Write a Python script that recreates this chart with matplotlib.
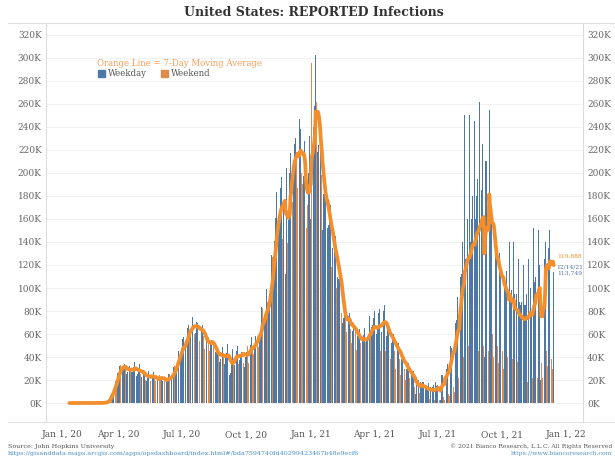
import numpy as np
import pandas as pd
import matplotlib
matplotlib.use('Agg')
import matplotlib.pyplot as plt
import matplotlib.transforms as mtransforms
from matplotlib.lines import Line2D
from matplotlib.patches import Rectangle

# daily reported US infections in thousands, rows are Mon..Sun weeks
start_date = '2020-01-22'

weeks_2020 = [
    [0, 0, 0, 0, 0],                                   # Jan 22 (Wed) - Jan 26
    [0, 0, 0, 0, 0, 0, 0],                             # Jan 27
    [0, 0, 0, 0, 0, 0, 0],                             # Feb 3
    [0, 0, 0, 0, 0, 0, 0],                             # Feb 10
    [0, 0, 0, 0, 0, 0, 0],                             # Feb 17
    [0, 0, 0, 0, 0, 0, 0.01],                          # Feb 24
    [0.02, 0.03, 0.03, 0.05, 0.08, 0.1, 0.12],         # Mar 2
    [0.2, 0.27, 0.27, 0.35, 0.6, 0.7, 0.73],           # Mar 9
    [1.3, 1.8, 2.4, 4.5, 5.6, 7.1, 8.6],               # Mar 16
    [10.6, 9.8, 11.8, 16.9, 18.4, 19.5, 18.9],         # Mar 23
    [22.5, 26.3, 25.8, 30.2, 32.1, 33.3, 26.4],        # Mar 30
    [30.7, 32.6, 31.2, 33.3, 34.2, 29.7, 27.2],        # Apr 6
    [25.5, 26.6, 30.4, 32.0, 32.1, 29.3, 25.9],        # Apr 13
    [27.4, 26.8, 28.7, 31.4, 35.8, 33.9, 27.4],        # Apr 20
    [23.6, 24.9, 26.8, 29.5, 34.1, 29.4, 25.3],        # Apr 27
    [22.5, 24.5, 25.4, 28.1, 26.9, 25.6, 20.4],        # May 4
    [18.9, 22.4, 21.6, 27.5, 25.7, 24.3, 19.2],        # May 11
    [21.8, 20.6, 22.9, 27.3, 24.9, 22.3, 19.5],        # May 18
    [18.7, 19.3, 20.4, 21.9, 24.6, 24.0, 20.9],        # May 25
    [21.0, 20.2, 19.3, 21.7, 24.5, 21.6, 17.8],        # Jun 1
    [17.1, 18.8, 21.0, 22.8, 25.0, 25.1, 19.4],        # Jun 8
    [19.5, 23.2, 25.9, 27.1, 31.4, 32.1, 26.2],        # Jun 15
    [30.0, 34.1, 38.2, 40.4, 45.3, 43.3, 41.9],        # Jun 22
    [40.9, 46.2, 51.1, 55.3, 57.5, 45.4, 44.1],        # Jun 29
    [49.5, 60.4, 62.0, 65.1, 68.1, 61.6, 58.3],        # Jul 6
    [61.7, 63.3, 68.4, 75.2, 71.4, 66.8, 60.3],        # Jul 13
    [61.3, 64.0, 70.1, 70.0, 72.0, 64.6, 54.1],        # Jul 20
    [57.1, 64.6, 64.8, 68.0, 69.2, 58.5, 47.0],        # Jul 27
    [48.6, 53.6, 53.3, 55.6, 58.6, 57.0, 44.8],        # Aug 3
    [45.6, 53.0, 54.4, 51.2, 64.4, 52.0, 40.5],        # Aug 10
    [36.9, 44.3, 45.2, 44.9, 47.4, 46.5, 35.6],        # Aug 17
    [36.1, 38.4, 44.9, 44.5, 48.4, 41.3, 34.4],        # Aug 24
    [34.3, 41.6, 41.9, 43.6, 51.6, 42.4, 32.6],        # Aug 31
    [24.0, 26.4, 34.7, 36.3, 46.8, 42.1, 34.6],        # Sep 7
    [33.0, 39.8, 39.3, 45.3, 49.5, 42.0, 33.9],        # Sep 14
    [37.0, 41.2, 40.0, 44.1, 54.0, 48.0, 35.1],        # Sep 21
    [31.0, 42.5, 40.2, 44.6, 51.9, 49.3, 34.9],        # Sep 28
    [40.3, 44.0, 50.1, 57.2, 57.7, 48.2, 43.0],        # Oct 5
    [40.1, 49.1, 58.0, 63.5, 68.6, 52.0, 48.7],        # Oct 12
    [58.4, 60.2, 62.5, 74.0, 83.7, 83.0, 60.8],        # Oct 19
    [66.4, 73.9, 79.3, 89.0, 99.3, 88.1, 74.0],        # Oct 26
    [82.6, 91.7, 103.6, 121.0, 128.3, 126.7, 104.1],   # Nov 2
    [127.5, 140.5, 144.5, 161.0, 183.3, 166.0, 138.0], # Nov 9
    [161.5, 161.7, 171.0, 187.1, 196.7, 178.0, 143.0], # Nov 16
    [171.0, 174.3, 181.0, 112.0, 204.0, 158.0, 139.0], # Nov 23
    [159.0, 180.0, 200.0, 217.0, 228.0, 214.0, 175.0], # Nov 30
    [193.0, 217.0, 225.0, 230.0, 245.0, 218.0, 187.0], # Dec 7
    [197.0, 200.0, 247.0, 238.0, 249.0, 200.0, 190.0], # Dec 14
    [196.0, 197.0, 228.0, 200.0, 150.0, 152.0, 172.0], # Dec 21
    [180.0, 200.0, 232.0, 235.0, 160.0, 296.0, 208.0], # Dec 28
]

weeks_2021 = [
    [190, 240, 258, 278, 303, 262, 215],   # Jan 4
    [218, 224, 232, 238, 242, 198, 172],   # Jan 11
    [150, 182, 190, 195, 196, 175, 140],   # Jan 18
    [152, 155, 160, 170, 172, 145, 118],   # Jan 25
    [135, 130, 132, 140, 145, 125, 100],   # Feb 1
    [110, 105, 108, 115, 118, 100, 78],    # Feb 8
    [70, 68, 74, 80, 88, 78, 62],          # Feb 15
    [58, 72, 76, 78, 80, 64, 52],          # Feb 22
    [60, 63, 70, 74, 72, 62, 46],          # Mar 1
    [50, 58, 62, 65, 64, 52, 40],          # Mar 8
    [53, 56, 59, 61, 65, 53, 40],          # Mar 15
    [55, 56, 62, 68, 76, 62, 42],          # Mar 22
    [66, 68, 70, 74, 80, 62, 44],          # Mar 29
    [60, 67, 72, 78, 82, 65, 45],          # Apr 5
    [62, 74, 78, 80, 85, 68, 45],          # Apr 12
    [58, 66, 66, 68, 72, 55, 38],          # Apr 19
    [52, 58, 58, 60, 62, 45, 30],          # Apr 26
    [46, 48, 50, 52, 55, 38, 24],          # May 3
    [35, 38, 40, 42, 44, 30, 20],          # May 10
    [30, 30, 33, 34, 35, 22, 14],          # May 17
    [24, 24, 26, 28, 28, 14, 9],           # May 24
    [8, 16, 22, 20, 20, 9, 6],             # May 31
    [18, 17, 17, 18, 18, 8, 5],            # Jun 7
    [15, 14, 14, 14, 17, 6, 3.5],          # Jun 14
    [14, 12, 14, 14, 16, 5, 3],            # Jun 21
    [18, 14, 15, 16, 20, 4, 2.5],          # Jun 28
    [3, 28, 24, 24, 28, 5, 3],             # Jul 5
    [40, 32, 30, 34, 40, 8, 6],            # Jul 12
    [70, 50, 48, 56, 64, 14, 10],          # Jul 19
    [95, 70, 72, 82, 92, 22, 15],          # Jul 26
    [175, 110, 112, 120, 140, 40, 25],     # Aug 2
    [250, 125, 130, 140, 160, 50, 32],     # Aug 9
    [250, 140, 145, 160, 180, 55, 38],     # Aug 16
    [245, 160, 165, 180, 195, 60, 45],     # Aug 23
    [262, 170, 175, 185, 225, 65, 50],     # Aug 30
    [40, 265, 210, 210, 220, 65, 45],      # Sep 6
    [255, 200, 175, 170, 190, 60, 40],     # Sep 13
    [230, 150, 130, 130, 150, 50, 35],     # Sep 20
    [200, 130, 115, 115, 130, 45, 30],     # Sep 27
    [175, 110, 105, 105, 115, 40, 25],     # Oct 4
    [130, 140, 95, 92, 98, 38, 24],        # Oct 11
    [140, 95, 88, 88, 95, 36, 22],         # Oct 18
    [125, 88, 82, 85, 88, 30, 20],         # Oct 25
    [120, 85, 85, 85, 95, 30, 18],         # Nov 1
    [125, 90, 92, 100, 80, 32, 22],        # Nov 8
    [152, 110, 105, 110, 125, 38, 22],     # Nov 15
    [150, 135, 120, 20, 45, 35, 22],       # Nov 22
    [198, 140, 125, 140, 160, 45, 32],     # Nov 29
    [182, 135, 150, 160, 150, 38, 29.47],  # Dec 6
    [198, 113.749],                        # Dec 13 - 14
]

y_ticks = list(range(0, 321, 20))
x_ticks = pd.date_range('2020-01-01', '2022-01-01', freq='QS')

W, H = 615, 459
blue = '#4e79a7'
weekend_orange = '#e08a4c'
line_orange = '#f28e2b'


def px(x, y):
    # pixel position -> figure fraction
    return x / W, 1 - y / H


cases = np.array([v for week in weeks_2020 + weeks_2021 for v in week], dtype=float)
dates = pd.date_range(start_date, periods=len(cases), freq='D')
weekend = dates.dayofweek >= 5
ma = pd.Series(cases).rolling(7, min_periods=1).mean().values

plt.rcParams['font.family'] = 'DejaVu Serif'

fig = plt.figure(figsize=(W / 100, H / 100), dpi=100)
ax = fig.add_axes([46 / W, 1 - 422 / H, (583 - 46) / W, (422 - 23) / H])

ax.bar(dates[~weekend], cases[~weekend], width=0.85, color=blue, linewidth=0, zorder=2)
ax.bar(dates[weekend], cases[weekend], width=0.85, color=weekend_orange, linewidth=0, zorder=2)
ax.plot(dates, ma, color=line_orange, lw=2.7, solid_joinstyle='round', solid_capstyle='round', zorder=3)

ax.set_ylim(-16.5, 330.4)
jan1 = pd.Timestamp('2020-01-01')
ax.set_xlim(jan1 - pd.Timedelta(days=12.3), jan1 + pd.Timedelta(days=754.9))

ax.set_yticks(y_ticks)
ax.set_yticklabels([f'{t}K' for t in y_ticks])
ax.set_xticks(x_ticks)
ax.set_xticklabels([f'{d:%b} {d.day}, {d:%y}' for d in x_ticks])
ax.tick_params(axis='y', length=0, labelsize=6.5, labelcolor='#666666',
               labelleft=True, labelright=True, pad=3)
ax.tick_params(axis='x', length=0, labelsize=6.5, labelcolor='#555555', pad=6)
# first date label sits inside the pane in the original
first = ax.get_xticklabels()[0]
first.set_transform(first.get_transform() + mtransforms.ScaledTranslation(0.08, 0, fig.dpi_scale_trans))

ax.yaxis.grid(True, color='#f1f1f1', lw=0.7)
ax.set_axisbelow(True)
for side in ['top', 'bottom']:
    ax.spines[side].set_visible(False)
for side in ['left', 'right']:
    ax.spines[side].set_color('#dcdcdc')
    ax.spines[side].set_linewidth(0.8)

# pane borders
fig.add_artist(Line2D([8 / W, 1], [1 - 23 / H] * 2, color='#e2e2e2', lw=0.8))
fig.add_artist(Line2D([8 / W, 1], [1 - 422 / H] * 2, color='#e2e2e2', lw=0.8))

# title
fig.text(*px(314, 13), 'United States: REPORTED Infections', ha='center', va='center',
         fontsize=9, weight='bold', color='#333333')

# legend
fig.text(*px(97, 63), 'Orange Line = 7-Day Moving Average', color='#f5a05a',
         fontsize=6.2, va='center')
fig.add_artist(Rectangle(px(98, 77), 7 / W, 7 / H, transform=fig.transFigure, color=blue))
fig.text(*px(108, 73.5), 'Weekday', color='#555555', fontsize=6.2, va='center')
fig.add_artist(Rectangle(px(161, 77), 7 / W, 7 / H, transform=fig.transFigure, color=weekend_orange))
fig.text(*px(171, 73.5), 'Weekend', color='#555555', fontsize=6.2, va='center')

# end-of-series labels
last = dates[-1]
ax.annotate(f'{ma[-1] * 1000:,.0f}', xy=(last, ma[-1]), xytext=(11.5, 6.5),
            textcoords='offset points', ha='center', va='center', fontsize=4.3, color=line_orange)
ax.annotate(f'{last.month}/{last.day}/{last:%y}', xy=(last, ma[-1]), xytext=(11.5, -1.5),
            textcoords='offset points', ha='center', va='center', fontsize=4.3, color=blue)
ax.annotate(f'{cases[-1] * 1000:,.0f}', xy=(last, ma[-1]), xytext=(11.5, -5.8),
            textcoords='offset points', ha='center', va='center', fontsize=4.3, color=blue)

# footer
fig.text(*px(8, 446.5), 'Source: John Hopkins University', fontsize=4.6, color='#555555', va='center')
fig.text(*px(8, 453.5),
         'https://gisanddata.maps.arcgis.com/apps/opsdashboard/index.html#/bda7594740fd40299423467b48e9ecf6',
         fontsize=4.6, color='#4a90c8', va='center')
fig.text(*px(612, 446), '\u00a9 2021 Bianco Research, L.L.C. All Rights Reserved', fontsize=4.4,
         color='#555555', va='center', ha='right')
fig.text(*px(612, 454), 'https://www.biancoresearch.com', fontsize=4.4, color='#4a90c8',
         va='center', ha='right')

fig.savefig('out.png', dpi=100)
